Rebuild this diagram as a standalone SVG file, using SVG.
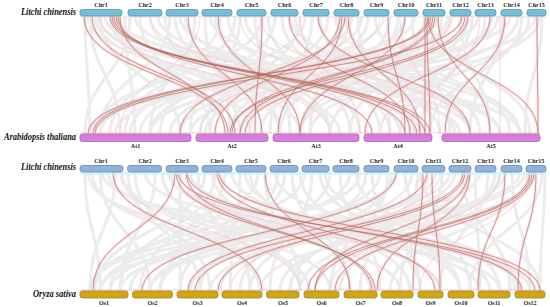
<svg xmlns="http://www.w3.org/2000/svg" xmlns:xlink="http://www.w3.org/1999/xlink" width="550" height="307" viewBox="0 0 550 307">
<style>
.sp{font-family:"Liberation Serif","Times New Roman",serif;font-weight:bold;font-style:italic;font-size:9.5px;text-anchor:end;fill:#111}
.cl{font-family:"Liberation Serif","Times New Roman",serif;font-weight:bold;font-size:6px;text-anchor:middle;fill:#222}
.lc1{fill:#74bfd6;stroke:#5b8fa9;stroke-width:0.8}
.lc2{fill:#8fb3da;stroke:#6a89ad;stroke-width:0.8}
.at{fill:#d77fdc;stroke:#ad62b4;stroke-width:0.8}
.os{fill:#d3a414;stroke:#8f8a2e;stroke-width:0.8}
.gray{fill:none;stroke:#e0e0e0;stroke-width:3;stroke-opacity:0.6}
.pink{fill:none;stroke:#f8c6d0;stroke-width:1.5;stroke-opacity:0.5}
.halo{fill:none;stroke:#fac0cc;stroke-width:3;stroke-opacity:0.4}
.red{fill:none;stroke:#a86650;stroke-width:0.7;stroke-opacity:0.9}
</style>
<defs>
<path id="redTop" d="M84 16C84 75 228 75 228 134M92 16C92 75 235 75 235 134M110 16C110 75 425 75 425 134M112 16C112 75 430 75 430 134M114 16C114 75 417 75 417 134M116 16C116 75 405 75 405 134M118 16C118 75 372 75 372 134M120 16C120 75 225 75 225 134M188 16C188 75 262 75 262 134M218 16C218 75 300 75 300 134M262 16C262 75 255 75 255 134M289 16C289 75 410 75 410 134M340 16C340 75 215 75 215 134M345 16C345 75 180 75 180 134M348 16C348 75 420 75 420 134M388 16C388 75 405 75 405 134M425 16C425 75 425 75 425 134M427 16C427 75 430 75 430 134M429 16C429 75 88 75 88 134M431 16C431 75 93 75 93 134M433 16C433 75 232 75 232 134M435 16C435 75 240 75 240 134M438 16C438 75 490 75 490 134M465 16C465 75 230 75 230 134M468 16C468 75 245 75 245 134M505 16C505 75 445 75 445 134M537 16C537 75 538 75 538 134M428 16C428 75 538 75 538 134M342 16C342 75 278 75 278 134M462 16C462 75 95 75 95 134M318 16C318 75 470 75 470 134M405 16C405 75 300 75 300 134M490 16C490 75 365 75 365 134"/>
<path id="redBot" d="M113 172C113 231 262 231 262 291M175 172C175 231 93 231 93 291M176 172C176 231 375 231 375 291M178 172C178 231 535 231 535 291M186 172C186 231 372 231 372 291M187 172C187 231 522 231 522 291M217 172C217 231 435 231 435 291M219 172C219 231 540 231 540 291M265 172C265 231 350 231 350 291M396 172C396 231 142 231 142 291M423 172C423 231 413 231 413 291M427 172C427 231 188 231 188 291M432 172C432 231 440 231 440 291M463 172C463 231 195 231 195 291M465 172C465 231 218 231 218 291M468 172C468 231 315 231 315 291M470 172C470 231 377 231 377 291M505 172C505 231 478 231 478 291M530 172C530 231 308 231 308 291M532 172C532 231 315 231 315 291M534 172C534 231 335 231 335 291M536 172C536 231 518 231 518 291"/>
</defs>
<rect width="550" height="307" fill="#fff"/>
<g id="connectors">
<path class="gray" d="M85 16C85 75 90 75 90 134M90 16C90 75 120 75 120 134M95 16C95 75 300 75 300 134M100 16C100 75 180 75 180 134M105 16C105 75 460 75 460 134M110 16C110 75 250 75 250 134M118 16C118 75 520 75 520 134M130 16C130 75 85 75 85 134M140 16C140 75 210 75 210 134M150 16C150 75 330 75 330 134M158 16C158 75 470 75 470 134M170 16C170 75 100 75 100 134M175 16C175 75 280 75 280 134M185 16C185 75 400 75 400 134M195 16C195 75 150 75 150 134M205 16C205 75 230 75 230 134M210 16C210 75 500 75 500 134M220 16C220 75 110 75 110 134M228 16C228 75 360 75 360 134M240 16C240 75 190 75 190 134M245 16C245 75 440 75 440 134M255 16C255 75 290 75 290 134M262 16C262 75 95 75 95 134M275 16C275 75 160 75 160 134M282 16C282 75 380 75 380 134M290 16C290 75 520 75 520 134M305 16C305 75 130 75 130 134M312 16C312 75 270 75 270 134M320 16C320 75 420 75 420 134M328 16C328 75 200 75 200 134M338 16C338 75 310 75 310 134M345 16C345 75 480 75 480 134M352 16C352 75 140 75 140 134M358 16C358 75 390 75 390 134M368 16C368 75 230 75 230 134M375 16C375 75 510 75 510 134M384 16C384 75 100 75 100 134M398 16C398 75 300 75 300 134M405 16C405 75 170 75 170 134M412 16C412 75 450 75 450 134M425 16C425 75 260 75 260 134M430 16C430 75 530 75 530 134M438 16C438 75 115 75 115 134M442 16C442 75 350 75 350 134M452 16C452 75 205 75 205 134M460 16C460 75 490 75 490 134M468 16C468 75 330 75 330 134M478 16C478 75 150 75 150 134M485 16C485 75 410 75 410 134M492 16C492 75 240 75 240 134M503 16C503 75 470 75 470 134M510 16C510 75 90 75 90 134M518 16C518 75 300 75 300 134M529 16C529 75 380 75 380 134M535 16C535 75 190 75 190 134M542 16C542 75 525 75 525 134M88 16C88 75 340 75 340 134M98 16C98 75 415 75 415 134M112 16C112 75 280 75 280 134M125 16C125 75 135 75 135 134M135 16C135 75 500 75 500 134M165 16C165 75 240 75 240 134M180 16C180 75 455 75 455 134M215 16C215 75 330 75 330 134M235 16C235 75 125 75 125 134M268 16C268 75 350 75 350 134M295 16C295 75 470 75 470 134M300 16C300 75 210 75 210 134M335 16C335 75 520 75 520 134M362 16C362 75 150 75 150 134M390 16C390 75 280 75 280 134M415 16C415 75 90 75 90 134M448 16C448 75 180 75 180 134M472 16C472 75 400 75 400 134M498 16C498 75 230 75 230 134M522 16C522 75 430 75 430 134M540 16C540 75 310 75 310 134"/>
<path class="pink" d="M100 16C100 75 330 75 330 134M150 16C150 75 420 75 420 134M200 16C200 75 120 75 120 134M260 16C260 75 470 75 470 134M300 16C300 75 360 75 360 134M350 16C350 75 250 75 250 134M400 16C400 75 440 75 440 134M450 16C450 75 300 75 300 134M500 16C500 75 500 75 500 134M240 16C240 75 390 75 390 134M380 16C380 75 200 75 200 134M480 16C480 75 420 75 420 134"/>
<path class="gray" d="M85 172C85 231 100 231 100 291M92 172C92 231 260 231 260 291M100 172C100 231 150 231 150 291M108 172C108 231 400 231 400 291M115 172C115 231 90 231 90 291M122 172C122 231 330 231 330 291M135 172C135 231 210 231 210 291M145 172C145 231 480 231 480 291M155 172C155 231 120 231 120 291M162 172C162 231 300 231 300 291M170 172C170 231 440 231 440 291M180 172C180 231 180 231 180 291M190 172C190 231 520 231 520 291M198 172C198 231 250 231 250 291M205 172C205 231 95 231 95 291M212 172C212 231 370 231 370 291M225 172C225 231 140 231 140 291M232 172C232 231 490 231 490 291M240 172C240 231 230 231 230 291M250 172C250 231 410 231 410 291M258 172C258 231 110 231 110 291M265 172C265 231 300 231 300 291M275 172C275 231 520 231 520 291M285 172C285 231 180 231 180 291M292 172C292 231 350 231 350 291M305 172C305 231 90 231 90 291M312 172C312 231 270 231 270 291M320 172C320 231 460 231 460 291M330 172C330 231 200 231 200 291M340 172C340 231 380 231 380 291M350 172C350 231 130 231 130 291M356 172C356 231 500 231 500 291M366 172C366 231 240 231 240 291M372 172C372 231 420 231 420 291M380 172C380 231 160 231 160 291M388 172C388 231 330 231 330 291M397 172C397 231 100 231 100 291M405 172C405 231 470 231 470 291M412 172C412 231 220 231 220 291M420 172C420 231 540 231 540 291M428 172C428 231 290 231 290 291M436 172C436 231 150 231 150 291M442 172C442 231 400 231 400 291M455 172C455 231 190 231 190 291M462 172C462 231 510 231 510 291M470 172C470 231 280 231 280 291M480 172C480 231 120 231 120 291M488 172C488 231 440 231 440 291M495 172C495 231 340 231 340 291M505 172C505 231 210 231 210 291M512 172C512 231 530 231 530 291M520 172C520 231 100 231 100 291M528 172C528 231 390 231 390 291M535 172C535 231 260 231 260 291M542 172C542 231 470 231 470 291M88 172C88 231 310 231 310 291M102 172C102 231 500 231 500 291M128 172C128 231 200 231 200 291M168 172C168 231 530 231 530 291M215 172C215 231 120 231 120 291M245 172C245 231 460 231 460 291M278 172C278 231 160 231 160 291M300 172C300 231 420 231 420 291M325 172C325 231 515 231 515 291M360 172C360 231 90 231 90 291M392 172C392 231 250 231 250 291M418 172C418 231 360 231 360 291M450 172C450 231 110 231 110 291M475 172C475 231 480 231 480 291M500 172C500 231 300 231 300 291M525 172C525 231 150 231 150 291M545 172C545 231 540 231 540 291"/>
<path class="pink" d="M180 172C180 231 440 231 440 291M220 172C220 231 520 231 520 291M440 172C440 231 230 231 230 291M500 172C500 231 330 231 330 291M530 172C530 231 420 231 420 291M120 172C120 231 300 231 300 291"/>
<use xlink:href="#redTop" class="halo"/>
<use xlink:href="#redBot" class="halo"/>
<use xlink:href="#redTop" class="red"/>
<use xlink:href="#redBot" class="red"/>
</g>
<rect x="80" y="16" width="466" height="1.5" fill="#fbd3db" opacity="0.6"/>
<rect x="80" y="132" width="461" height="1.5" fill="#fbc2d0" opacity="0.6"/>
<rect x="80" y="172" width="466" height="3" fill="#c8f3f2" opacity="0.7"/>
<rect x="80" y="289" width="466" height="1.5" fill="#fbc2d0" opacity="0.6"/>
<g id="litchi-top">
<text class="sp" x="76" y="14.5" textLength="55" lengthAdjust="spacingAndGlyphs">Litchi chinensis</text>
<rect class="lc1" x="80" y="9.5" width="42" height="6.5" rx="2.5"/><text class="cl" x="101" y="7">Chr1</text>
<rect class="lc1" x="128" y="9.5" width="34" height="6.5" rx="2.5"/><text class="cl" x="145" y="7">Chr2</text>
<rect class="lc1" x="166" y="9.5" width="32" height="6.5" rx="2.5"/><text class="cl" x="182" y="7">Chr3</text>
<rect class="lc1" x="202" y="9.5" width="30" height="6.5" rx="2.5"/><text class="cl" x="217" y="7">Chr4</text>
<rect class="lc1" x="237" y="9.5" width="29" height="6.5" rx="2.5"/><text class="cl" x="251.5" y="7">Chr5</text>
<rect class="lc1" x="271" y="9.5" width="27" height="6.5" rx="2.5"/><text class="cl" x="284.5" y="7">Chr6</text>
<rect class="lc1" x="303" y="9.5" width="26" height="6.5" rx="2.5"/><text class="cl" x="316" y="7">Chr7</text>
<rect class="lc1" x="334" y="9.5" width="25" height="6.5" rx="2.5"/><text class="cl" x="346.5" y="7">Chr8</text>
<rect class="lc1" x="364" y="9.5" width="25" height="6.5" rx="2.5"/><text class="cl" x="376.5" y="7">Chr9</text>
<rect class="lc1" x="394" y="9.5" width="24" height="6.5" rx="2.5"/><text class="cl" x="406" y="7">Chr10</text>
<rect class="lc1" x="423" y="9.5" width="22" height="6.5" rx="2.5"/><text class="cl" x="434" y="7">Chr11</text>
<rect class="lc1" x="450" y="9.5" width="21" height="6.5" rx="2.5"/><text class="cl" x="460.5" y="7">Chr12</text>
<rect class="lc1" x="475" y="9.5" width="21" height="6.5" rx="2.5"/><text class="cl" x="485.5" y="7">Chr13</text>
<rect class="lc1" x="501" y="9.5" width="21" height="6.5" rx="2.5"/><text class="cl" x="511.5" y="7">Chr14</text>
<rect class="lc1" x="527" y="9.5" width="19" height="6.5" rx="2.5"/><text class="cl" x="536.5" y="7">Chr15</text>
</g>
<g id="arabidopsis">
<text class="sp" x="76" y="140" textLength="72" lengthAdjust="spacingAndGlyphs">Arabidopsis thaliana</text>
<rect class="at" x="80" y="134" width="111" height="7.5" rx="2.5"/><text class="cl" x="135.5" y="148">At1</text>
<rect class="at" x="196" y="134" width="72" height="7.5" rx="2.5"/><text class="cl" x="232" y="148">At2</text>
<rect class="at" x="273" y="134" width="86" height="7.5" rx="2.5"/><text class="cl" x="316" y="148">At3</text>
<rect class="at" x="364" y="134" width="68" height="7.5" rx="2.5"/><text class="cl" x="398" y="148">At4</text>
<rect class="at" x="442" y="134" width="98" height="7.5" rx="2.5"/><text class="cl" x="491" y="148">At5</text>
</g>
<g id="litchi-bottom">
<text class="sp" x="76" y="170" textLength="55" lengthAdjust="spacingAndGlyphs">Litchi chinensis</text>
<rect class="lc2" x="80" y="165.5" width="43" height="6.5" rx="2.5"/><text class="cl" x="101" y="163">Chr1</text>
<rect class="lc2" x="127.5" y="165.5" width="34" height="6.5" rx="2.5"/><text class="cl" x="145" y="163">Chr2</text>
<rect class="lc2" x="166" y="165.5" width="32" height="6.5" rx="2.5"/><text class="cl" x="182" y="163">Chr3</text>
<rect class="lc2" x="202" y="165.5" width="30" height="6.5" rx="2.5"/><text class="cl" x="217" y="163">Chr4</text>
<rect class="lc2" x="236" y="165.5" width="30" height="6.5" rx="2.5"/><text class="cl" x="251" y="163">Chr5</text>
<rect class="lc2" x="270" y="165.5" width="28" height="6.5" rx="2.5"/><text class="cl" x="284" y="163">Chr6</text>
<rect class="lc2" x="302" y="165.5" width="27" height="6.5" rx="2.5"/><text class="cl" x="315.5" y="163">Chr7</text>
<rect class="lc2" x="333" y="165.5" width="26" height="6.5" rx="2.5"/><text class="cl" x="346" y="163">Chr8</text>
<rect class="lc2" x="364" y="165.5" width="25" height="6.5" rx="2.5"/><text class="cl" x="376.5" y="163">Chr9</text>
<rect class="lc2" x="394" y="165.5" width="24" height="6.5" rx="2.5"/><text class="cl" x="406" y="163">Chr10</text>
<rect class="lc2" x="422" y="165.5" width="23" height="6.5" rx="2.5"/><text class="cl" x="433.5" y="163">Chr11</text>
<rect class="lc2" x="449" y="165.5" width="22" height="6.5" rx="2.5"/><text class="cl" x="460" y="163">Chr12</text>
<rect class="lc2" x="475" y="165.5" width="21" height="6.5" rx="2.5"/><text class="cl" x="485.5" y="163">Chr13</text>
<rect class="lc2" x="501" y="165.5" width="21" height="6.5" rx="2.5"/><text class="cl" x="511.5" y="163">Chr14</text>
<rect class="lc2" x="526" y="165.5" width="20" height="6.5" rx="2.5"/><text class="cl" x="536" y="163">Chr15</text>
</g>
<g id="oryza">
<text class="sp" x="76" y="297" textLength="43" lengthAdjust="spacingAndGlyphs">Oryza sativa</text>
<rect class="os" x="80" y="291" width="48" height="7" rx="2.5"/><text class="cl" x="104" y="305">Os1</text>
<rect class="os" x="132.5" y="291" width="40" height="7" rx="2.5"/><text class="cl" x="152.5" y="305">Os2</text>
<rect class="os" x="177" y="291" width="41" height="7" rx="2.5"/><text class="cl" x="197.5" y="305">Os3</text>
<rect class="os" x="222" y="291" width="40" height="7" rx="2.5"/><text class="cl" x="242" y="305">Os4</text>
<rect class="os" x="266.5" y="291" width="32.5" height="7" rx="2.5"/><text class="cl" x="283" y="305">Os5</text>
<rect class="os" x="304" y="291" width="35" height="7" rx="2.5"/><text class="cl" x="321.5" y="305">Os6</text>
<rect class="os" x="344" y="291" width="33" height="7" rx="2.5"/><text class="cl" x="360.5" y="305">Os7</text>
<rect class="os" x="381" y="291" width="32" height="7" rx="2.5"/><text class="cl" x="397" y="305">Os8</text>
<rect class="os" x="418" y="291" width="25" height="7" rx="2.5"/><text class="cl" x="430.5" y="305">Os9</text>
<rect class="os" x="448" y="291" width="26" height="7" rx="2.5"/><text class="cl" x="461" y="305">Os10</text>
<rect class="os" x="478" y="291" width="32" height="7" rx="2.5"/><text class="cl" x="494" y="305">Os11</text>
<rect class="os" x="515" y="291" width="30" height="7" rx="2.5"/><text class="cl" x="530" y="305">Os12</text>
</g>
</svg>
